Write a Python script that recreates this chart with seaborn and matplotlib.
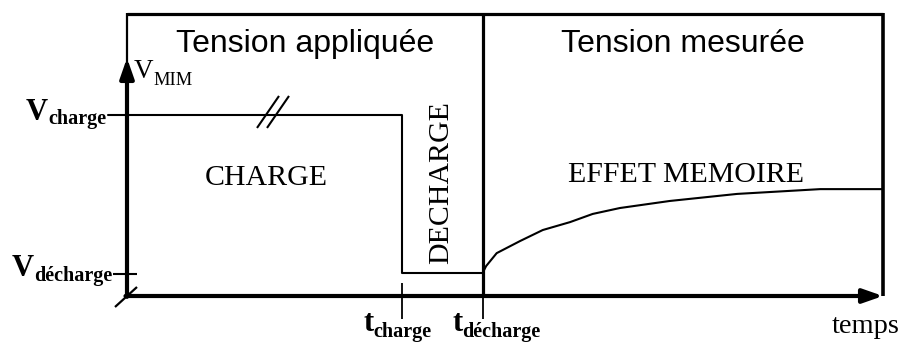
import matplotlib
matplotlib.use("Agg")
import matplotlib.pyplot as plt
import numpy as np
import pandas as pd
import seaborn as sns

sns.set_theme(style="white")
plt.rcParams["font.family"] = ["Liberation Serif", "DejaVu Serif"]
plt.rcParams["text.color"] = "black"

# ---- data (arbitrary units: time 0..10, voltage 0..10) ----
T_END = 10.0
V_TOP = 10.0
t_charge = 3.64
t_decharge = 4.71
v_charge = 6.42
v_decharge = 0.82

# applied voltage: charge plateau, then step down to the discharge level
applied_t = [-0.25, t_charge, t_charge, t_decharge]
applied_v = [v_charge, v_charge, v_decharge, v_decharge]

# measured voltage after discharge (memory effect)
measured_t = [4.71, 4.75, 4.89, 5.20, 5.50, 5.86, 6.16, 6.52, 7.18, 8.07, 9.17, 10.0]
measured_v = [0.85, 1.06, 1.52, 1.95, 2.34, 2.62, 2.91, 3.12, 3.37, 3.62, 3.79, 3.79]

level_names = ["charge", "décharge"]
level_values = [v_charge, v_decharge]
time_names = ["charge", "décharge"]
time_values = [t_charge, t_decharge]

panel_titles = ["Tension appliquée", "Tension mesurée"]
region_labels = ["CHARGE", "DECHARGE", "EFFET MEMOIRE"]

# ---- figure ----
W, H = 903, 342
fig = plt.figure(figsize=(W / 100, H / 100), dpi=100)
X0, X1, Y0, Y1 = 127, 883, 296, 14  # pixel frame of the plotting area
ax = fig.add_axes([X0 / W, (H - Y0) / H, (X1 - X0) / W, (Y0 - Y1) / H])
ax.set_xlim(0, T_END)
ax.set_ylim(0, V_TOP)
ax.axis("off")

px_x = (X1 - X0) / T_END
px_y = (Y0 - Y1) / V_TOP

applied = pd.DataFrame({"t": applied_t, "v": applied_v})
measured = pd.DataFrame({"t": measured_t, "v": measured_v})
sns.lineplot(data=applied, x="t", y="v", sort=False, estimator=None,
             color="black", lw=1.5, ax=ax, clip_on=False)
sns.lineplot(data=measured, x="t", y="v", sort=False, estimator=None,
             color="black", lw=1.5, ax=ax, clip_on=False)

K = dict(color="black", clip_on=False, solid_capstyle="butt")

# panel frames
ax.plot([0, T_END], [V_TOP, V_TOP], lw=2.3, **K)
ax.plot([0, 0], [V_TOP + 0.05, 8.0], lw=1.6, **K)
ax.plot([t_decharge, t_decharge], [V_TOP, 0], lw=2.3, **K)
ax.plot([T_END, T_END], [V_TOP + 0.05, 0], lw=2.6, **K)

# axes with arrows
ax.annotate("", xy=(T_END, 0), xytext=(-0.02, 0),
            arrowprops=dict(arrowstyle="-|>,head_length=1.0,head_width=0.35",
                            lw=3.0, color="black", shrinkA=0, shrinkB=0),
            annotation_clip=False)
ax.annotate("", xy=(0, (Y0 - 58) / px_y), xytext=(0, -0.03),
            arrowprops=dict(arrowstyle="-|>,head_length=1.0,head_width=0.35",
                            lw=3.0, color="black", shrinkA=0, shrinkB=0),
            annotation_clip=False)

# origin slash and discharge-level tick
ax.plot([-12 / px_x, 10 / px_x], [-11 / px_y, 9 / px_y], lw=1.6, **K)
ax.plot([-14 / px_x, 10 / px_x], [v_decharge - 0.03, v_decharge - 0.03], lw=1.5, **K)

# time ticks
ax.plot([t_charge, t_charge], [13 / px_y, -23 / px_y], lw=1.3, **K)
ax.plot([t_decharge, t_decharge], [0, -23 / px_y], lw=1.3, **K)

# break marks on the charge plateau
for x_px in (257, 267):
    t0 = (x_px - X0) / px_x
    ax.plot([t0, t0 + 22 / px_x], [v_charge - 13 / px_y, v_charge + 19 / px_y], lw=1.5, **K)

# titles of the two panels
sans = ["Liberation Sans", "DejaVu Sans"]
ax.text(t_decharge / 2, (Y0 - 44) / px_y, panel_titles[0], family=sans,
        fontsize=23, ha="center", va="center")
ax.text((t_decharge + T_END) / 2, (Y0 - 44) / px_y, panel_titles[1], family=sans,
        fontsize=23, ha="center", va="center")

# region labels
ax.text((266 - X0) / px_x, (Y0 - 178) / px_y, region_labels[0], fontsize=21.5,
        ha="center", va="center")
ax.text((441 - X0) / px_x, (Y0 - 183) / px_y, region_labels[1], fontsize=21.5,
        ha="center", va="center", rotation=90)
ax.text((686 - X0) / px_x, (Y0 - 175) / px_y, region_labels[2], fontsize=21.5,
        ha="center", va="center")

fig.canvas.draw()
renderer = fig.canvas.get_renderer()


def sub_label(xy, main, sub, dx, dy_main, dy_sub, size_main, size_sub, weight):
    """Main letter with a subscript, offsets in pixels from the anchor xy."""
    t1 = ax.annotate(main, xy=xy, xytext=(dx, dy_main), textcoords="offset pixels",
                     fontsize=size_main, fontweight=weight, ha="left", va="baseline",
                     annotation_clip=False)
    w = t1.get_window_extent(renderer).width
    ax.annotate(sub, xy=xy, xytext=(dx + w, dy_sub), textcoords="offset pixels",
                fontsize=size_sub, fontweight=weight, ha="left", va="baseline",
                annotation_clip=False)


# voltage labels
sub_label((0, level_values[0]), "V", level_names[0], -101, -5, -9, 22, 14.5, "bold")
sub_label((0, level_values[1]), "V", level_names[1], -115, -3, -8, 22, 14.5, "bold")
sub_label((0, (Y0 - 58) / px_y), "V", "MIM", 7, -20, -27, 19.5, 13.3, "normal")

# time labels
sub_label((time_values[0], 0), "t", time_names[0], -39, -35, -41, 22, 14.5, "bold")
sub_label((time_values[1], 0), "t", time_names[1], -31, -35, -41, 22, 14.5, "bold")

ax.annotate("temps", xy=(T_END, 0), xytext=(-17, -37), textcoords="offset pixels",
            fontsize=20.5, ha="center", va="baseline", annotation_clip=False)

fig.savefig("out.png", dpi=100)
